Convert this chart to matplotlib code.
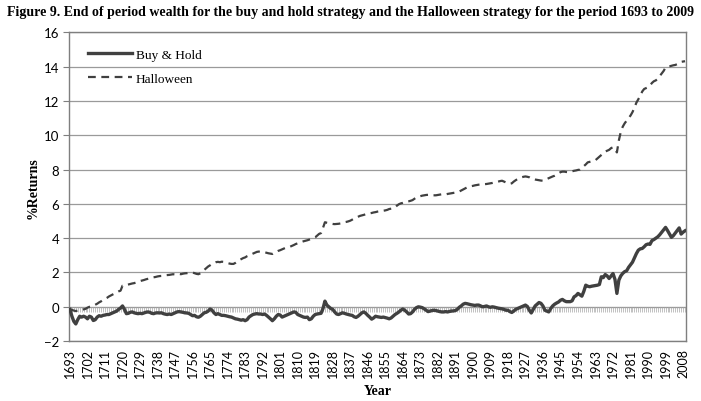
import matplotlib
matplotlib.use("Agg")
import matplotlib.pyplot as plt
import numpy as np

# End of period wealth (one value per year 1693..2009)
halloween = [
    -0.15, -0.18, -0.22, -0.25, -0.22, -0.2, -0.18, -0.15, -0.12, -0.05,
    0.0, 0.03, 0.06, 0.12, 0.18, 0.26, 0.32, 0.4, 0.46, 0.52,
    0.6, 0.66, 0.72, 0.78, 0.84, 0.9, 0.94, 1.23, 1.25, 1.27,
    1.3, 1.33, 1.36, 1.38, 1.42, 1.46, 1.5, 1.53, 1.56, 1.6,
    1.63, 1.66, 1.7, 1.72, 1.74, 1.77, 1.79, 1.8, 1.82, 1.84,
    1.85, 1.86, 1.88, 1.9, 1.88, 1.9, 1.92, 1.9, 1.93, 1.95,
    1.96, 1.98, 2.0, 2.0, 1.96, 1.92, 1.9, 1.95, 2.05, 2.15,
    2.25, 2.35, 2.42, 2.5, 2.55, 2.6, 2.62, 2.6, 2.63, 2.62,
    2.58, 2.55, 2.52, 2.5, 2.5, 2.56, 2.65, 2.72, 2.78, 2.84,
    2.88, 2.95, 3.0, 3.05, 3.1, 3.15, 3.2, 3.22, 3.2, 3.2,
    3.18, 3.15, 3.12, 3.1, 3.08, 3.15, 3.2, 3.26, 3.3, 3.35,
    3.4, 3.45, 3.48, 3.5, 3.55, 3.6, 3.66, 3.7, 3.74, 3.78,
    3.82, 3.85, 3.88, 3.92, 3.96, 4.0, 4.05, 4.15, 4.25, 4.3,
    4.6, 4.93, 4.9, 4.88, 4.85, 4.83, 4.82, 4.83, 4.84, 4.86,
    4.9, 4.93, 4.95, 4.98, 5.02, 5.08, 5.15, 5.2, 5.25, 5.3,
    5.33, 5.36, 5.4, 5.42, 5.45, 5.47, 5.5, 5.52, 5.55, 5.57,
    5.58, 5.6, 5.62, 5.65, 5.7, 5.72, 5.74, 5.8, 5.9, 5.98,
    6.03, 6.06, 6.1, 6.13, 6.15, 6.18, 6.22, 6.3, 6.38, 6.42,
    6.45, 6.48, 6.5, 6.52, 6.53, 6.52, 6.5, 6.5, 6.5, 6.52,
    6.54, 6.56, 6.55, 6.55, 6.58, 6.6, 6.62, 6.64, 6.66, 6.68,
    6.72, 6.78, 6.84, 6.9, 6.96, 7.0, 7.03, 7.05, 7.08, 7.1,
    7.12, 7.13, 7.14, 7.15, 7.16, 7.18, 7.2, 7.22, 7.25, 7.27,
    7.3, 7.33, 7.35, 7.3, 7.25, 7.2, 7.17, 7.2, 7.3, 7.38,
    7.45, 7.5, 7.55, 7.58, 7.6, 7.58, 7.55, 7.48, 7.45, 7.42,
    7.4, 7.38, 7.36, 7.35, 7.38, 7.45, 7.5, 7.55, 7.6, 7.64,
    7.7, 7.78, 7.85, 7.88, 7.88, 7.86, 7.85, 7.86, 7.9, 7.93,
    7.95, 7.98, 8.0, 8.1, 8.2, 8.3, 8.42, 8.45, 8.48, 8.5,
    8.55, 8.65, 8.75, 8.85, 8.95, 9.05, 9.1, 9.15, 9.25, 9.3,
    9.2, 9.0, 9.7, 10.2, 10.5, 10.7, 10.85, 11.0, 11.15, 11.35,
    11.6, 11.9, 12.1, 12.3, 12.55, 12.7, 12.75, 12.8, 12.9, 13.05,
    13.15, 13.2, 13.3, 13.45, 13.6, 13.75, 13.95, 14.0, 14.02, 14.05,
    14.08, 14.1, 14.15, 14.2, 14.28, 14.3, 14.32,
]

buy_hold = [
    -0.15, -0.55, -0.85, -1.0, -0.75, -0.55, -0.6, -0.55, -0.6, -0.7,
    -0.55, -0.6, -0.8, -0.75, -0.6, -0.52, -0.55, -0.5, -0.48, -0.45,
    -0.45, -0.4, -0.35, -0.3, -0.25, -0.15, -0.07, 0.05, -0.15, -0.4,
    -0.38, -0.32, -0.3, -0.35, -0.38, -0.4, -0.38, -0.4, -0.36, -0.32,
    -0.3, -0.32, -0.38, -0.4, -0.36, -0.35, -0.36, -0.35, -0.4, -0.43,
    -0.45, -0.42, -0.45, -0.4, -0.35, -0.3, -0.28, -0.3, -0.32, -0.35,
    -0.36, -0.38, -0.45, -0.52, -0.5, -0.58, -0.61, -0.55, -0.45, -0.35,
    -0.32, -0.25, -0.13, -0.2, -0.35, -0.45, -0.4, -0.45, -0.5, -0.5,
    -0.52, -0.55, -0.58, -0.6, -0.65, -0.7, -0.72, -0.75, -0.78, -0.75,
    -0.81, -0.75, -0.6, -0.52, -0.45, -0.42, -0.4, -0.42, -0.42, -0.45,
    -0.42, -0.5, -0.6, -0.7, -0.81, -0.7, -0.55, -0.45, -0.48, -0.6,
    -0.55, -0.5, -0.45, -0.4, -0.35, -0.3, -0.32, -0.45, -0.5, -0.55,
    -0.6, -0.62, -0.6, -0.75, -0.7, -0.55, -0.45, -0.42, -0.4, -0.38,
    -0.1, 0.33, 0.1, 0.0, -0.1, -0.15, -0.3, -0.42, -0.45, -0.4,
    -0.35, -0.38, -0.42, -0.45, -0.48, -0.5, -0.58, -0.62, -0.55, -0.45,
    -0.35, -0.3, -0.38, -0.5, -0.6, -0.72, -0.65, -0.55, -0.58, -0.6,
    -0.62, -0.6, -0.63, -0.66, -0.7, -0.65, -0.55, -0.45, -0.38, -0.3,
    -0.2, -0.13, -0.2, -0.3, -0.42, -0.4, -0.3, -0.15, -0.05, 0.0,
    -0.02, -0.05, -0.12, -0.2, -0.28, -0.25, -0.22, -0.2, -0.22, -0.25,
    -0.28, -0.3, -0.3, -0.28, -0.3, -0.27, -0.25, -0.24, -0.22, -0.15,
    -0.03, 0.05, 0.15, 0.2, 0.18, 0.15, 0.12, 0.1, 0.08, 0.1,
    0.1, 0.05, 0.0, 0.02, 0.05, 0.0, -0.03, 0.0, -0.02, -0.05,
    -0.08, -0.1, -0.12, -0.15, -0.2, -0.2, -0.28, -0.33, -0.25, -0.15,
    -0.1, -0.05, 0.0, 0.05, 0.1, 0.02, -0.2, -0.36, -0.15, 0.05,
    0.15, 0.25, 0.2, 0.05, -0.2, -0.25, -0.3, -0.1, 0.05, 0.15,
    0.22, 0.28, 0.38, 0.43, 0.35, 0.3, 0.3, 0.3, 0.35, 0.58,
    0.65, 0.78, 0.7, 0.62, 0.9, 1.26, 1.2, 1.17, 1.2, 1.22,
    1.24, 1.26, 1.3, 1.75, 1.7, 1.88, 1.8, 1.65, 1.8, 1.94,
    1.6, 0.78, 1.55, 1.8, 1.95, 2.05, 2.1, 2.3, 2.45, 2.6,
    2.85, 3.1, 3.3, 3.38, 3.4, 3.5, 3.62, 3.66, 3.64, 3.86,
    3.92, 4.0, 4.08, 4.2, 4.34, 4.48, 4.63, 4.45, 4.25, 4.05,
    4.15, 4.3, 4.45, 4.6, 4.24, 4.35, 4.43,
]

first_year = 1693
years = np.arange(first_year, first_year + len(buy_hold))
assert len(halloween) == len(buy_hold)
label_years = years[::9]

SERIF = "Liberation Serif"
SANS = "Lato"
LINE = "#404040"

fig = plt.figure(figsize=(7.01, 4.02), dpi=100)
ax = fig.add_axes([0.0984, 0.149, 0.8802, 0.768])

fig.text(0.5, 0.968, "Figure 9. End of period wealth for the buy and hold strategy and the Halloween strategy for the period 1693 to 2009",
         ha="center", va="center", family=SERIF, weight="bold", fontsize=10.0)

ax.plot(years, buy_hold, color=LINE, lw=2.4, label="Buy & Hold", zorder=4)
ax.plot(years, halloween, color=LINE, lw=1.6, ls=(0, (3.5, 2.5)), label="Halloween", zorder=4)

# category axis crossing at zero, with one tick per year
ax.axhline(0, color="#9a9a9a", lw=0.8, zorder=2)
ax.vlines(years, -0.28, 0, color="#a8a8a8", lw=0.5, zorder=2)

ax.set_xlim(years[0] - 0.5, years[-1] + 0.5)
ax.set_ylim(-2, 16)
ax.set_yticks(np.arange(-2, 17, 2))
ax.yaxis.grid(True, color="#9a9a9a", lw=0.9)
ax.set_axisbelow(True)

ax.set_xticks(label_years)
ax.set_xticklabels([str(y) for y in label_years], rotation=90, family=SANS, fontsize=9)
ax.tick_params(axis="x", length=0, pad=5)
ax.tick_params(axis="y", length=4, color="#7f7f7f", labelsize=9.5, pad=3)
for lab in ax.get_yticklabels():
    lab.set_family(SANS)

for side in ["left", "right", "top", "bottom"]:
    ax.spines[side].set_color("#7f7f7f")
    ax.spines[side].set_linewidth(1.0)

ax.set_xlabel("Year", family=SERIF, weight="bold", fontsize=10, labelpad=5)
ax.set_ylabel("%Returns", family=SERIF, weight="bold", fontsize=10, labelpad=3)

ax.legend(loc="upper left", frameon=False, prop={"family": SERIF, "size": 9.5},
          handlelength=3.3, handletextpad=0.3, labelspacing=0.85,
          bbox_to_anchor=(0.012, 0.985))

fig.savefig("out.png", dpi=100)
